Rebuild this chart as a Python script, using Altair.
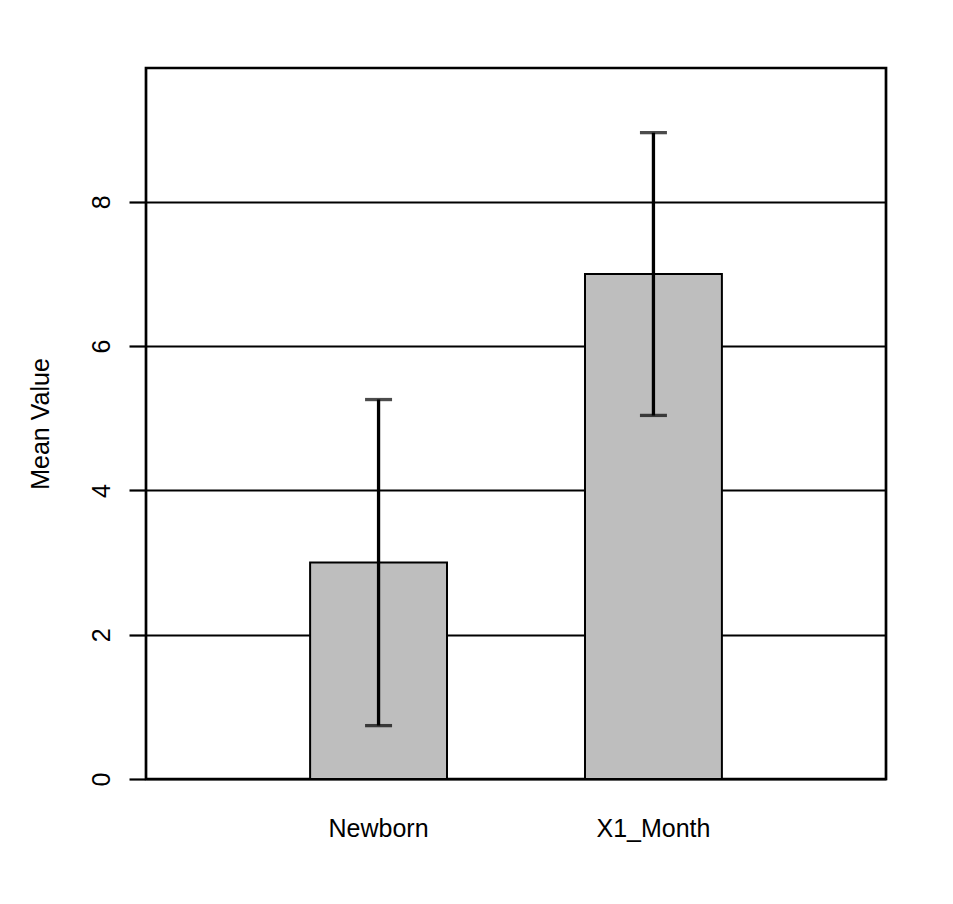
import altair as alt
import pandas as pd

categories = ["Newborn", "X1_Month"]
means = [3.0, 7.0]
errors = [2.26, 1.96]
y_ticks = [0, 2, 4, 6, 8]
y_max = 9.856

df = pd.DataFrame({"group": categories, "mean": means, "err": errors})
df["lower"] = df["mean"] - df["err"]
df["upper"] = df["mean"] + df["err"]

FONT = "Liberation Sans"

x_scale = alt.Scale(paddingInner=0.502, paddingOuter=0.597)
x_axis = alt.Axis(title=None, labelAngle=0, ticks=False, tickSize=0, domain=False,
                  grid=False, labelFontSize=25, labelFont=FONT, labelColor="black",
                  labelBaseline="alphabetic", labelPadding=57)
y_scale = alt.Scale(domain=[0, y_max], nice=False, zero=True)
y_axis = alt.Axis(title="Mean Value", values=y_ticks, format="d", grid=True,
                  gridColor="black", gridWidth=2.2, domain=False, ticks=True,
                  tickSize=17, tickWidth=2.2, tickColor="black", labelAngle=270,
                  labelAlign="center", labelBaseline="alphabetic", labelPadding=20,
                  labelFontSize=25, labelFont=FONT, labelColor="black",
                  titleFont=FONT, titleFontSize=25, titleFontWeight="normal",
                  titleColor="black", titleAngle=270, titleAlign="center",
                  titleBaseline="alphabetic", titleX=-98, titleY=355.5)

xe = alt.X("group:N", sort=categories, scale=x_scale, axis=x_axis)

bars = alt.Chart(df).mark_bar(fill="#bebebe", stroke="black", strokeWidth=2).encode(
    x=xe,
    y=alt.Y("mean:Q", scale=y_scale, axis=y_axis),
)
stems = alt.Chart(df).mark_rule(color="black", strokeWidth=3.3).encode(
    x=alt.X("group:N", sort=categories),
    y=alt.Y("lower:Q", title="Mean Value"),
    y2="upper:Q",
)
caps_top = alt.Chart(df).mark_tick(color="black", size=27, thickness=3.3).encode(
    x=alt.X("group:N", sort=categories),
    y=alt.Y("upper:Q", title="Mean Value"),
)
caps_bot = alt.Chart(df).mark_tick(color="black", size=27, thickness=3.3).encode(
    x=alt.X("group:N", sort=categories),
    y=alt.Y("lower:Q", title="Mean Value"),
)

chart = alt.layer(bars, stems, caps_top, caps_bot).properties(
    width=740,
    height=711,
    autosize=alt.AutoSizeParams(type="none"),
    padding={"left": 138, "top": 60, "right": 50, "bottom": 110},
    background="white",
).configure_view(stroke="black", strokeWidth=2.7)

chart.save("out.html", embed_options={"renderer": "svg", "actions": False})
